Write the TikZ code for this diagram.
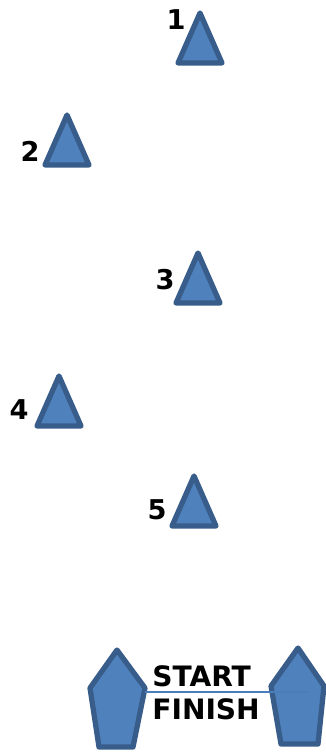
\documentclass[tikz,border=0pt]{standalone}
\usepackage{fontspec}
\setmainfont{DejaVu Sans}
\usetikzlibrary{positioning}

\definecolor{buoyfill}{HTML}{4F81BD}
\definecolor{buoyedge}{HTML}{385D8A}
\definecolor{gateline}{HTML}{4A7EBB}

\begin{document}
\begin{tikzpicture}[
  x=0.02cm, y=-0.02cm,
  buoy/.style  = {fill=buoyfill, draw=buoyedge, line width=3pt,
                  line join=round},
  num/.style   = {font=\fontsize{15.5}{17}\selectfont\bfseries,
                  inner sep=0pt},
  gatelbl/.style={font=\fontsize{16}{18}\selectfont\bfseries,
                  inner sep=0pt, anchor=west},
  line/.style  = {draw=gateline, line width=1.1pt}
]
\useasboundingbox (0,0) rectangle (325,756);

% ===================== MARKS =====================
\foreach \id/\ax/\ay/\lx/\ly in {1/200/13/176/20, 2/67/115/30/151,
                                  3/198/253/165/280, 4/59/376/19/410,
                                  5/194/476/157/510}{
  \draw[buoy] (\ax,\ay) -- ++(22,50) -- ++(-44,0) -- cycle;
  \node[num] (mark\id) at (\lx,\ly) {\id};
}

% ===================== START / FINISH GATE =====================
% left pin
\draw[buoy] (117,650) -- (145,688) -- (133,747) -- (99,747) -- (90,688) -- cycle;
% right pin
\draw[buoy] (298,648) -- (324,686) -- (318,744) -- (281,744) -- (271,686) -- cycle;

\coordinate (gateL) at (145,692);
\coordinate (gateR) at (308,692);
\draw[line] (gateL) -- (gateR);

\node[gatelbl] (start)  at (152,676) {START};
\node[gatelbl] (finish) at (152,709) {FINISH};

\end{tikzpicture}
\end{document}
